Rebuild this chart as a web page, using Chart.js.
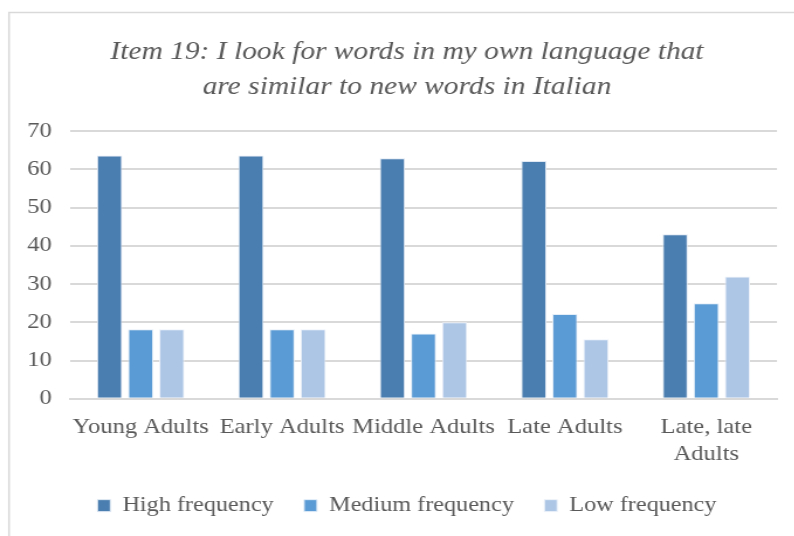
<!DOCTYPE html>
<html>
<head>
<meta charset="utf-8">
<script src="https://cdn.jsdelivr.net/npm/chart.js@4/dist/chart.umd.min.js"></script>
<style>
  html, body { margin: 0; padding: 0; background: #ffffff; overflow: hidden; }
  #wrap { position: relative; width: 679px; height: 536px; transform: scaleX(1.17); transform-origin: 0 0; }
</style>
</head>
<body>
<div id="wrap"><canvas id="chart" width="679" height="536"></canvas></div>
<script>
// Survey responses (%) by age group
const categories = ["Young Adults", "Early Adults", "Middle Adults", "Late Adults", ["Late, late", "Adults"]];
const highFrequency = [63.6, 63.6, 62.9, 62.2, 43.0];
const mediumFrequency = [18.2, 18.2, 17.1, 22.2, 25.0];
const lowFrequency = [18.2, 18.2, 20.0, 15.6, 32.0];
const yTicks = [0, 10, 20, 30, 40, 50, 60, 70];

const serif = "'Liberation Serif', 'Times New Roman', serif";
const textColor = "#595959";

// Light frame around the whole chart
const frame = {
  id: "frame",
  beforeDraw(chart) {
    const c = chart.ctx;
    c.save();
    c.fillStyle = "#ffffff";
    c.fillRect(0, 0, chart.width, chart.height);
    c.strokeStyle = "#d9d9d9";
    c.lineWidth = 1.5;
    c.beginPath();
    c.moveTo(7.7, chart.height);
    c.lineTo(7.7, 12.5);
    c.lineTo(chart.width, 12.5);
    c.stroke();
    c.restore();
  }
};

new Chart(document.getElementById("chart"), {
  type: "bar",
  data: {
    labels: categories,
    datasets: [
      { label: "High frequency", data: highFrequency, backgroundColor: "#4a7eb0", borderColor: "#dfe8f3", borderWidth: 1 },
      { label: "Medium frequency", data: mediumFrequency, backgroundColor: "#5b9bd5", borderColor: "#e3eef8", borderWidth: 1 },
      { label: "Low frequency", data: lowFrequency, backgroundColor: "#adc6e6", borderColor: "#eef3fa", borderWidth: 1 }
    ]
  },
  options: {
    responsive: false,
    animation: false,
    devicePixelRatio: 1,
    layout: { padding: { left: 22, right: 5.3, top: 0, bottom: 10 } },
    datasets: { bar: { categoryPercentage: 0.66, barPercentage: 0.81 } },
    plugins: {
      title: {
        display: true,
        text: ["Item 19: I look for words in my own language that", "are similar to new words in Italian"],
        color: textColor,
        font: { family: serif, size: 25.2, style: "italic", weight: "normal", lineHeight: 1.39 },
        padding: { top: 35, bottom: 26 }
      },
      legend: {
        position: "bottom",
        labels: {
          color: textColor,
          font: { family: serif, size: 20.7 },
          boxWidth: 11,
          boxHeight: 12,
          padding: 26
        }
      },
      tooltip: { enabled: false }
    },
    scales: {
      x: {
        grid: { display: false },
        border: { display: true, color: "#d9d9d9", width: 2 },
        ticks: { color: textColor, font: { family: serif, size: 21, lineHeight: 1.25 }, maxRotation: 0, autoSkip: false, padding: 8 },
        afterFit(axis) {
          axis.height -= 6;
          axis.paddingLeft = 0;
          axis.paddingRight = 0;
        }
      },
      y: {
        min: yTicks[0],
        max: yTicks[yTicks.length - 1],
        afterBuildTicks(axis) { axis.ticks = yTicks.map(v => ({ value: v })); },
        afterFit(axis) { axis.width = 37.8; },
        grid: { color: "#d9d9d9", lineWidth: 2, drawTicks: false },
        border: { display: false },
        ticks: { color: textColor, font: { family: serif, size: 21 }, padding: 15.6 }
      },
      // empty right-hand gutter so the title and legend sit over the whole frame
      gutter: {
        type: "linear",
        position: "right",
        display: true,
        grid: { display: false },
        border: { display: false },
        ticks: { display: false },
        afterFit(axis) { axis.width = 9.6; }
      }
    }
  },
  plugins: [frame]
});
</script>
</body>
</html>
